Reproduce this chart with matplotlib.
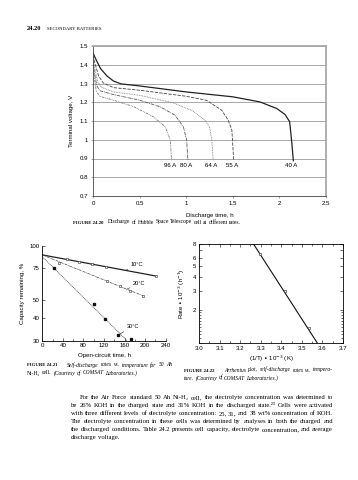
import numpy as np
import matplotlib.pyplot as plt
from matplotlib.ticker import FixedLocator, NullFormatter, NullLocator

plt.rcParams['font.family'] = ['Liberation Sans', 'DejaVu Sans']
SERIF = ['Liberation Serif', 'DejaVu Serif']

# ---- Figure 24.20: discharge of HST cell at different rates ----
rate_names = ['40 A', '55 A', '64 A', '80 A', '96 A']
t40 = [0, 0.03, 0.08, 0.15, 0.22, 0.3, 0.5, 1.0, 1.5, 1.79, 1.97, 2.06, 2.11, 2.13, 2.15]
v40 = [1.463, 1.43, 1.38, 1.34, 1.313, 1.298, 1.287, 1.255, 1.229, 1.202, 1.167, 1.135, 1.096, 1.0, 0.888]
t55 = [0, 0.02, 0.06, 0.11, 0.22, 0.5, 1.0, 1.22, 1.38, 1.45, 1.49, 1.5, 1.51]
v55 = [1.45, 1.41, 1.34, 1.303, 1.278, 1.264, 1.232, 1.21, 1.158, 1.105, 1.051, 0.97, 0.89]
t64 = [0, 0.02, 0.05, 0.09, 0.22, 0.5, 0.86, 1.07, 1.2, 1.25, 1.275, 1.29]
v64 = [1.43, 1.38, 1.31, 1.28, 1.255, 1.237, 1.197, 1.154, 1.105, 1.069, 0.998, 0.89]
t80 = [0, 0.015, 0.04, 0.07, 0.22, 0.5, 0.72, 0.88, 0.97, 1.005, 1.018]
v80 = [1.41, 1.36, 1.29, 1.262, 1.241, 1.211, 1.176, 1.131, 1.069, 0.998, 0.89]
t96 = [0, 0.015, 0.035, 0.07, 0.22, 0.44, 0.65, 0.775, 0.83, 0.843]
v96 = [1.39, 1.33, 1.26, 1.232, 1.211, 1.176, 1.122, 1.069, 0.998, 0.89]
v_ticks = [0.7, 0.8, 0.9, 1.0, 1.1, 1.2, 1.3, 1.4, 1.5]
v_ticklabels = ['0.7', '0.8', '0.9', '1', '1.1', '1.2', '1.3', '1.4', '1.5']
h_ticks = [0, 0.5, 1, 1.5, 2, 2.5]
h_ticklabels = ['0', '0.5', '1', '1.5', '2', '2.5']

# ---- Figure 24.21: self-discharge vs temperature ----
t10 = [48, 72, 96, 124, 222]
cap10 = [84, 81.5, 79, 76.5, 68]
fit10_t = [0, 222]
fit10_c = [89, 68]
t20 = [32, 125, 151, 170, 196]
cap20 = [80, 64, 60, 56.5, 53]
fit20_t = [0, 196]
fit20_c = [89, 53]
t30 = [23, 100, 122, 147, 172]
cap30 = [75.5, 48, 39.5, 32.3, 30.5]
fit30_t = [0, 165]
fit30_c = [87, 30]
cap_ticks = [30, 40, 50, 75, 100]
time_ticks = [0, 40, 80, 120, 160, 200, 240]

# ---- Figure 24.22: Arrhenius plot ----
inv_T = [3.296, 3.418, 3.536]
rate = [6.5, 3.0, 1.37]
fit_invT = [3.265, 3.575]
fit_rate = [8.0, 1.0]
rate_ticks = [1, 2, 3, 4, 5, 6, 7, 8]
rate_ticklabels = ['', '2', '3', '4', '5', '6', '', '8']
invT_ticks = [3.0, 3.1, 3.2, 3.3, 3.4, 3.5, 3.6, 3.7]

W, H = 358, 480
fig = plt.figure(figsize=(W / 100, H / 100), dpi=100)
fig.patch.set_facecolor('white')


def box(l, t, r, b):
    return [l / W, 1 - b / H, (r - l) / W, (b - t) / H]


fs = 4.4

# top chart
ax1 = fig.add_axes(box(93, 46, 326, 196))
styles = ['-', (0, (4, 1.5)), (0, (1, 1)), (0, (4, 1, 1, 1)), (0, (3, 1, 1, 1, 1, 1))]
colors = ['#222222', '#444444', '#777777', '#555555', '#777777']
widths = [0.9, 0.6, 0.6, 0.6, 0.6]
for name, t, v, ls, c, lw in zip(rate_names, [t40, t55, t64, t80, t96],
                                 [v40, v55, v64, v80, v96], styles, colors, widths):
    ax1.plot(t, v, ls=ls, color=c, lw=lw)
    ax1.text(t[-1] - 0.02, 0.865, name, ha='center', va='center', fontsize=fs)
ax1.set_xlim(0, 2.5)
ax1.set_ylim(0.7, 1.5)
ax1.set_yticks(v_ticks, v_ticklabels)
ax1.set_xticks(h_ticks, h_ticklabels)
ax1.grid(axis='y', color='#9a9a9a', lw=0.6)
ax1.tick_params(labelsize=fs, length=1.5, width=0.4, pad=2, color='#666666')
for s in ['top', 'right']:
    ax1.spines[s].set_color('#a8a8a8')
    ax1.spines[s].set_linewidth(1.3)
for s in ['left', 'bottom']:
    ax1.spines[s].set_color('#444444')
    ax1.spines[s].set_linewidth(0.6)
ax1.set_ylabel('Terminal voltage, V', fontsize=fs, labelpad=4)
ax1.set_xlabel('Discharge time, h', fontsize=fs, labelpad=5)

# bottom left chart
ax2 = fig.add_axes(box(42.3, 245.7, 165.7, 340.7))
ax2.set_yscale('log')
ax2.plot(fit10_t, fit10_c, '-', color='#222222', lw=0.9)
ax2.plot(t10, cap10, 's', mfc='white', mec='#333333', ms=2.0, mew=0.4)
ax2.plot(fit20_t, fit20_c, ls=(0, (4, 1, 1, 1)), color='#444444', lw=0.5)
ax2.plot(t20, cap20, 'o', mfc='white', mec='#333333', ms=1.8, mew=0.4)
ax2.plot(fit30_t, fit30_c, ls=(0, (1.5, 1)), color='#333333', lw=0.5)
ax2.plot(t30, cap30, 's', color='#111111', ms=1.6)
ax2.set_xlim(0, 240)
ax2.set_ylim(30, 100)
ax2.yaxis.set_major_locator(FixedLocator(cap_ticks))
ax2.yaxis.set_minor_locator(NullLocator())
ax2.yaxis.set_minor_formatter(NullFormatter())
ax2.set_yticklabels([str(c) for c in cap_ticks])
ax2.set_xticks(time_ticks)
ax2.xaxis.set_minor_locator(FixedLocator(np.arange(20, 240, 40)))
ax2.tick_params(labelsize=fs, length=2, width=0.4, pad=2, direction='in')
ax2.tick_params(which='minor', length=1.5, width=0.4, direction='in')
ax2.spines[['top', 'right']].set_visible(False)
for s in ['left', 'bottom']:
    ax2.spines[s].set_linewidth(0.6)
ax2.set_ylabel('Capacity remaining, %', fontsize=fs, labelpad=3)
ax2.set_xlabel('Open-circuit time, h', fontsize=fs, labelpad=3)
arw = dict(arrowstyle='-', lw=0.4, color='#222222', shrinkA=0, shrinkB=0)
ax2.annotate('10°C', xy=(161, 72.9), xytext=(172, 78.5), fontsize=fs - 0.3,
             va='center', arrowprops=arw)
ax2.annotate('20°C', xy=(164, 57.6), xytext=(176, 61.8), fontsize=fs - 0.3,
             va='center', arrowprops=arw)
ax2.annotate('30°C', xy=(151, 32.7), xytext=(164, 35.8), fontsize=fs - 0.3,
             va='center', arrowprops=arw)

# bottom right chart
ax3 = fig.add_axes(box(199, 244, 343, 343))
ax3.set_yscale('log')
ax3.plot(fit_invT, fit_rate, '-', color='#111111', lw=0.8)
ax3.plot(inv_T, rate, 's', mfc='white', mec='#222222', ms=2.0, mew=0.4)
ax3.set_xlim(3.0, 3.7)
ax3.set_ylim(1, 8)
ax3.yaxis.set_major_locator(FixedLocator(rate_ticks))
ax3.set_yticklabels(rate_ticklabels)
ax3.yaxis.set_minor_locator(FixedLocator(np.arange(1.1, 2.0, 0.1)))
ax3.yaxis.set_minor_formatter(NullFormatter())
ax3.set_xticks(invT_ticks, ['%.1f' % v for v in invT_ticks])
ax3.xaxis.set_minor_locator(FixedLocator(np.arange(3.05, 3.7, 0.1)))
ax3.tick_params(labelsize=fs, length=2.2, width=0.4, pad=2, direction='in',
                top=True, right=True)
ax3.tick_params(which='minor', length=1.2, width=0.4, direction='in',
                top=True, right=True)
for s in ax3.spines.values():
    s.set_linewidth(0.6)
ax3.set_ylabel('Rate • 10$^{-3}$ (h$^{-1}$)', fontsize=fs, labelpad=4)
ax3.set_xlabel('(1/T) • 10$^{-3}$ (K)', fontsize=fs, labelpad=2)

# page text (y given as the baseline, in pixels from the top)
renderer = fig.canvas.get_renderer()


def ftext(x, y, s, **kw):
    kw.setdefault('family', SERIF)
    kw.setdefault('va', 'baseline')
    return fig.text(x / W, 1 - y / H, s, **kw)


def width_of(s, size, style='normal', weight='normal'):
    t = ftext(0, 0, s, fontsize=size, style=style, weight=weight)
    w = t.get_window_extent(renderer).width
    t.remove()
    return w


def fit_size(s, target, style='normal'):
    return 10 * target / width_of(s, 10, style)


def set_line(x0, y, line, size, style='normal', x1=None):
    # one text per word, at the natural positions of the whole line,
    # spread out to x1 when the line is justified
    words = line.split(' ')
    starts = [width_of(' '.join(words[:k + 1]), size, style) - width_of(w, size, style)
              for k, w in enumerate(words)]
    extra = 0
    if x1 is not None and len(words) > 1:
        extra = (x1 - x0 - width_of(line, size, style)) / (len(words) - 1)
    for k, w in enumerate(words):
        ftext(x0 + starts[k] + k * extra, y, w, fontsize=size, style=style)


ftext(27, 29.5, '24.20', fontsize=4.6, weight='bold')
ftext(47, 29.5, 'SECONDARY BATTERIES', fontsize=3.4)

cap_fs = fit_size('Discharge of Hubble Space Telescope cell at different rates.', 240 - 108)
ftext(73, 223.5, 'FIGURE 24.20', fontsize=cap_fs * 0.85, weight='bold')
set_line(108, 223.5, 'Discharge of Hubble Space Telescope cell at different rates.', cap_fs)

line_a = 'Self-discharge rates vs. temperature for 50 Ah'
ftext(27, 366.5, 'FIGURE 24.21', fontsize=cap_fs * 0.85, weight='bold')
set_line(67, 366.5, line_a, cap_fs, 'italic', x1=172)
set_line(27, 374.5, 'Ni-H₂ cell.', cap_fs)
set_line(27 + width_of('Ni-H₂ cell. ', cap_fs) + 1.5, 374.5,
         '(Courtesy of COMSAT Laboratories.)', cap_fs, 'italic')

line_b = 'Arrhenius plot, self-discharge rates vs. tempera-'
ftext(184, 371.5, 'FIGURE 24.22', fontsize=cap_fs * 0.85, weight='bold')
set_line(224, 371.5, line_b, cap_fs, 'italic', x1=333)
set_line(184, 379.5, 'ture. (Courtesy of COMSAT Laboratories.)', cap_fs, 'italic')

body = [
    'For the Air Force standard 50 Ah Ni-H₂ cell, the electrolyte concentration was determined to',
    'be 26% KOH in the charged state and 31% KOH in the discharged state.²³ Cells were activated',
    'with three different levels of electrolyte concentration: 25, 31, and 38 wt% concentration of KOH.',
    'The electrolyte concentration in these cells was determined by analyses in both the charged and',
    'the discharged conditions. Table 24.2 presents cell capacity, electrolyte concentration, and average',
    'discharge voltage.',
]
body_fs = fit_size(body[2], 262)
for i, line in enumerate(body):
    last = i == len(body) - 1
    set_line(80 if i == 0 else 71, 399 + 8 * i, line, body_fs,
             x1=None if last else 333)

fig.savefig('out.png', dpi=100, facecolor='white')
